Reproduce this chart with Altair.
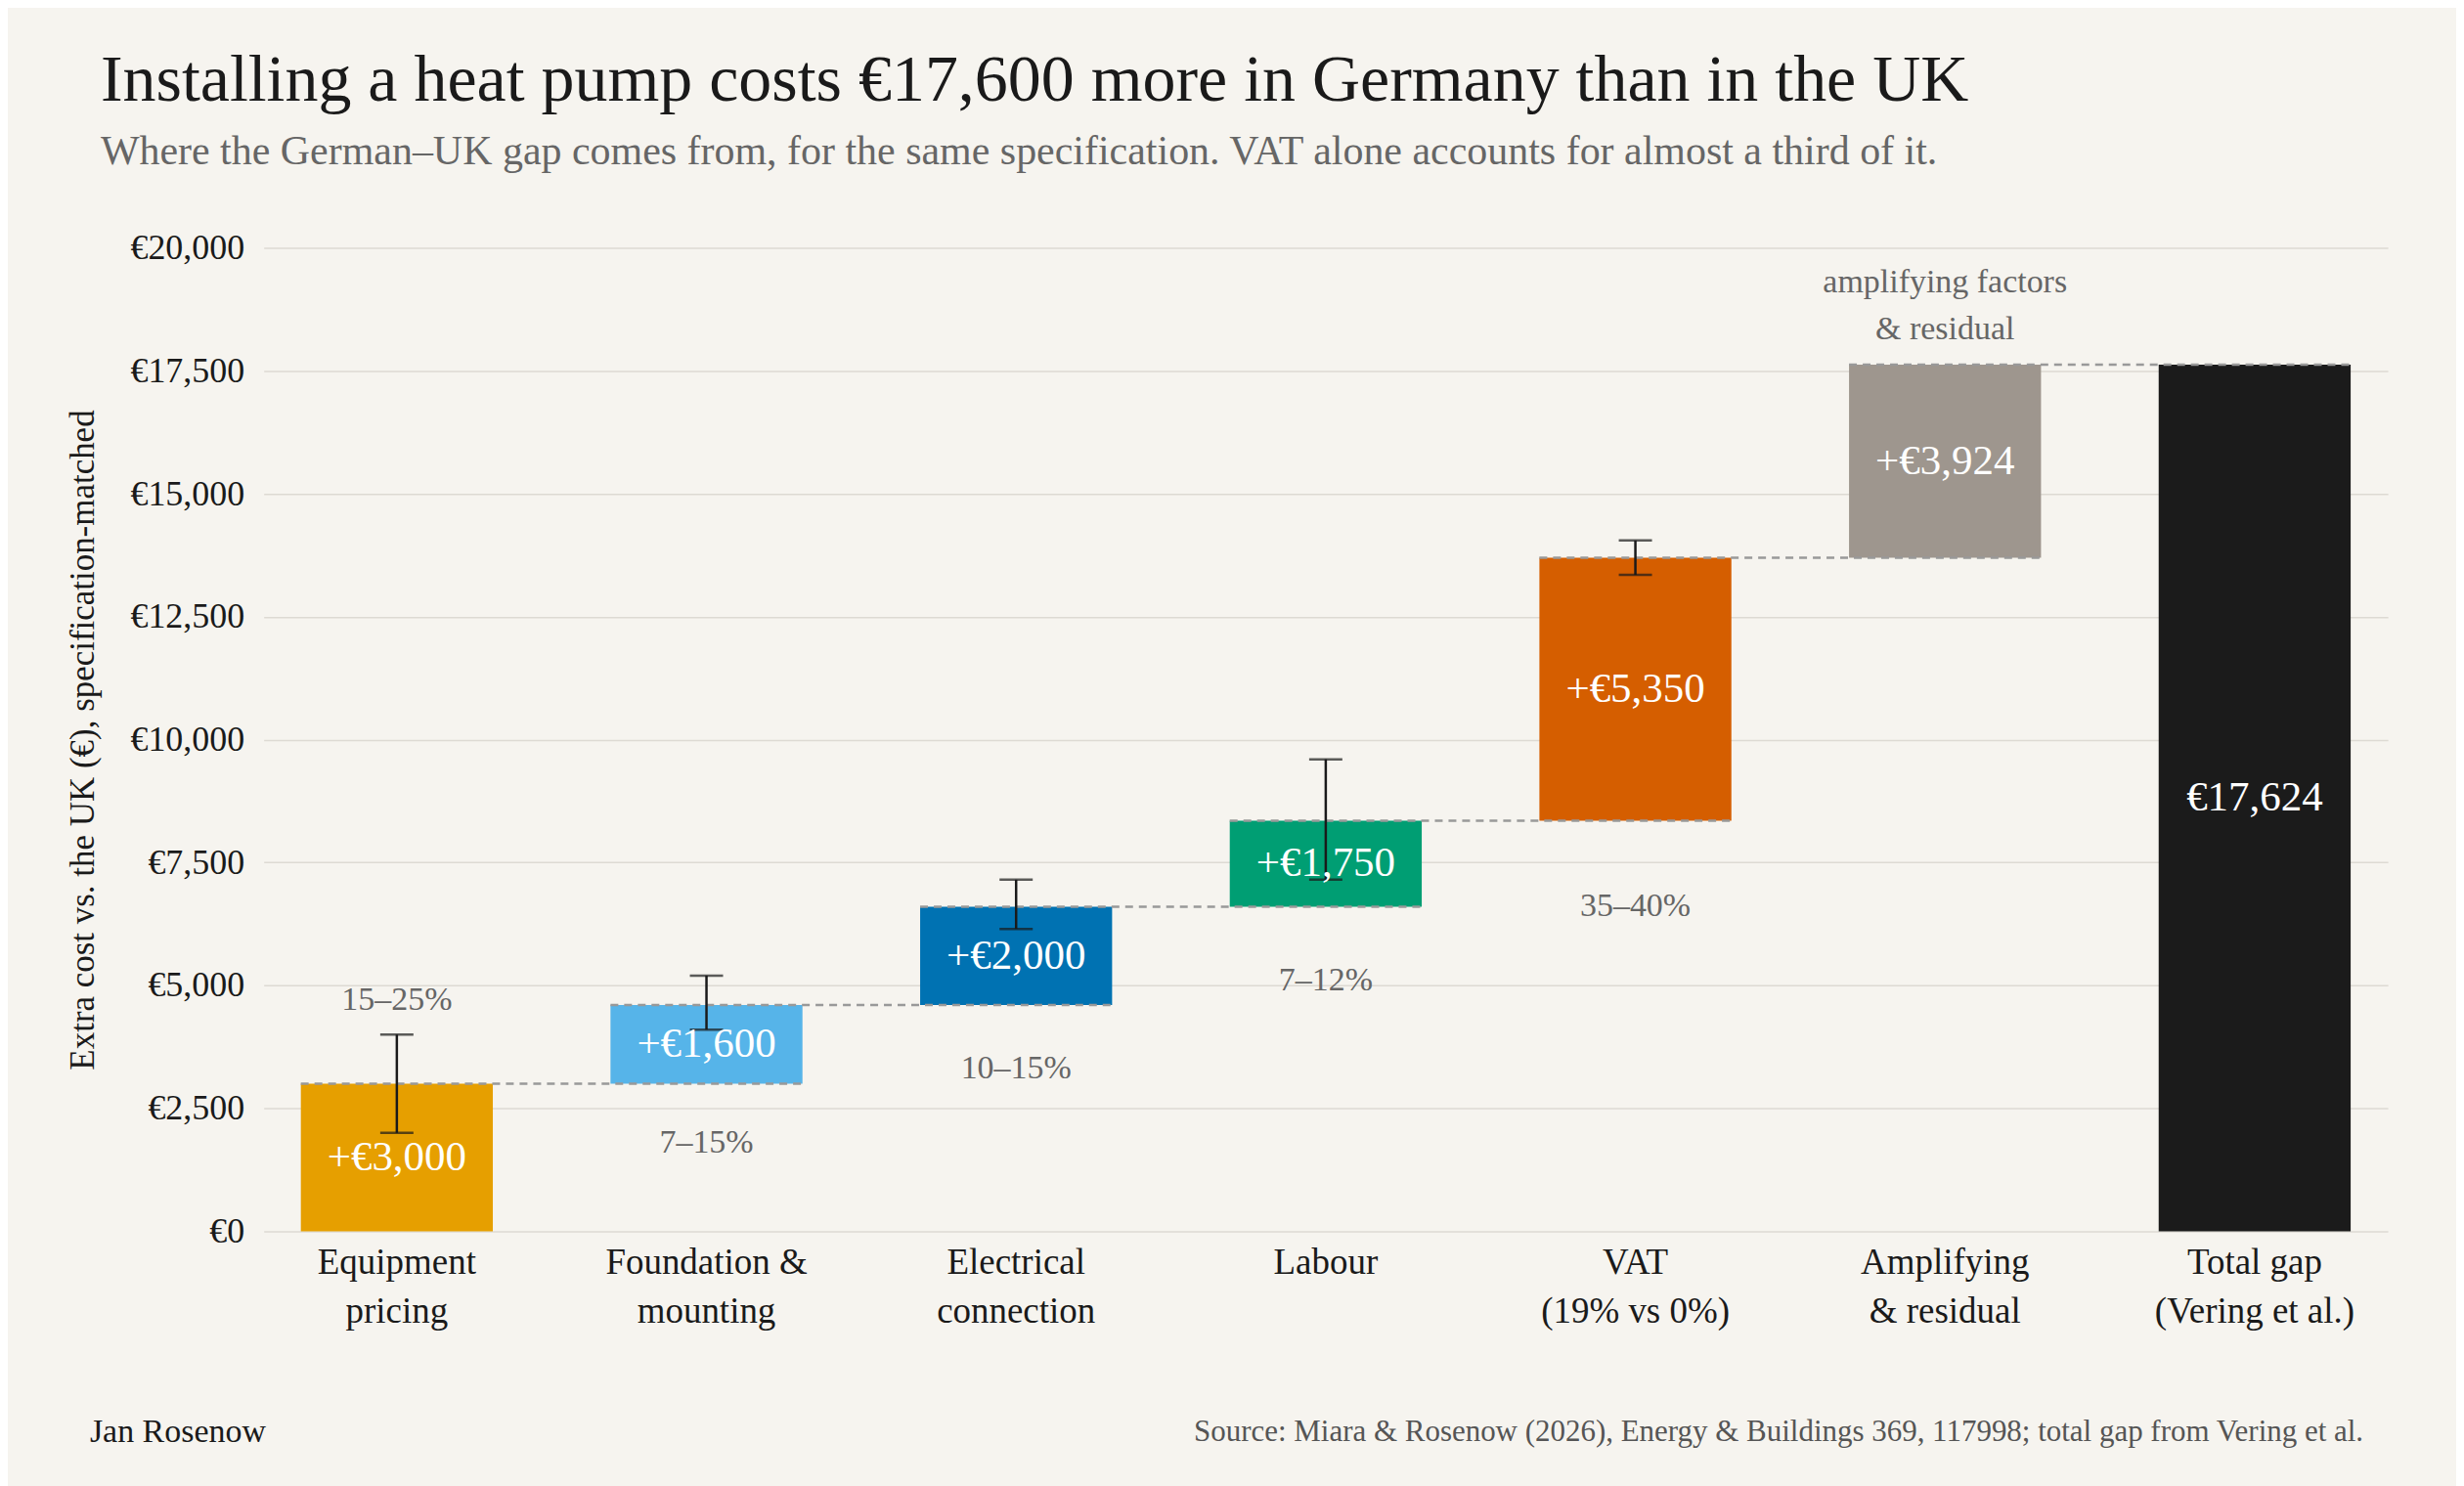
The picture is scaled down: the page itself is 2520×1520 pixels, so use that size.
import altair as alt
import pandas as pd

categories = ["Equipment|pricing", "Foundation &|mounting", "Electrical|connection", "Labour",
              "VAT|(19% vs 0%)", "Amplifying|& residual", "Total gap|(Vering et al.)"]
starts = [0, 3000, 4600, 6600, 8350, 13700, 0]
ends = [3000, 4600, 6600, 8350, 13700, 17624, 17624]
bar_labels = ["+€3,000", "+€1,600", "+€2,000", "+€1,750", "+€5,350", "+€3,924", "€17,624"]
colors = ["#E69F00", "#56B4E9", "#0072B2", "#009E73", "#D55E00", "#9E968E", "#1B1B1B"]
err_lo = [2000, 4100, 6150, 7150, 13350]
err_hi = [4000, 5200, 7150, 9600, 14050]
share_labels = ["15–25%", "7–15%", "10–15%", "7–12%", "35–40%"]
share_y = [4700, 1800, 3300, 5100, 6600]

FONT = "Liberation Serif"
W, H = 2175, 1007

bars = pd.DataFrame({"cat": categories, "start": starts, "end": ends, "label": bar_labels,
                     "color": colors})
bars["mid"] = (bars["start"] + bars["end"]) / 2
errs = pd.DataFrame({"cat": categories[:5], "lo": err_lo, "hi": err_hi})
shares = pd.DataFrame({"cat": categories[:5], "txt": share_labels, "y": share_y})
conn = pd.DataFrame({"cat": categories[:6], "nxt": categories[1:], "y": ends[:6]})

xs = alt.Scale(domain=categories, paddingInner=0.38, paddingOuter=0.12)
ys = alt.Scale(domain=[0, 20000])
x = alt.X("cat:N", scale=xs, sort=categories, title=None,
          axis=alt.Axis(labelExpr="split(datum.value, '|')", labelAngle=0, labelFontSize=37,
                        labelColor="#1a1a1a", labelPadding=14, labelLineHeight=50,
                        labelLimit=0, domain=False, ticks=False))

bar = alt.Chart(bars).mark_bar().encode(
    x=x,
    y=alt.Y("start:Q", scale=ys, title="Extra cost vs. the UK (€), specification-matched",
            axis=alt.Axis(values=list(range(0, 20001, 2500)),
                          labelExpr="'€' + format(datum.value, ',')",
                          labelFontSize=36, labelColor="#1a1a1a", titleFontSize=35,
                          titleFontWeight="normal", titleColor="#1a1a1a", titlePadding=30,
                          gridColor="#dddad3", gridWidth=1.5, domain=False, ticks=False,
                          labelPadding=20)),
    y2="end:Q",
    color=alt.Color("color:N", scale=None),
)

connectors = alt.Chart(conn).mark_rule(strokeDash=[8, 6], color="#999999", strokeWidth=2.5).encode(
    x=alt.X("cat:N", scale=xs, sort=categories, bandPosition=0),
    x2=alt.X2("nxt:N", bandPosition=1),
    y=alt.Y("y:Q", scale=ys),
)

ebar = alt.Chart(errs).mark_rule(color="#1a1a1a", strokeWidth=2.5).encode(
    x=alt.X("cat:N", scale=xs, sort=categories, bandPosition=0.5),
    y=alt.Y("lo:Q", scale=ys), y2="hi:Q",
)
cap_lo = alt.Chart(errs).mark_tick(color="#1a1a1a", thickness=2.5, size=34, orient="horizontal").encode(
    x=alt.X("cat:N", scale=xs, sort=categories, bandPosition=0.5), y=alt.Y("lo:Q", scale=ys))
cap_hi = alt.Chart(errs).mark_tick(color="#1a1a1a", thickness=2.5, size=34, orient="horizontal").encode(
    x=alt.X("cat:N", scale=xs, sort=categories, bandPosition=0.5), y=alt.Y("hi:Q", scale=ys))

blabels = alt.Chart(bars).mark_text(font=FONT, fontSize=43, color="white").encode(
    x=alt.X("cat:N", scale=xs, sort=categories, bandPosition=0.5),
    y=alt.Y("mid:Q", scale=ys), text="label:N")

slabels = alt.Chart(shares).mark_text(font=FONT, fontSize=34, color="#666666").encode(
    x=alt.X("cat:N", scale=xs, sort=categories, bandPosition=0.5),
    y=alt.Y("y:Q", scale=ys), text="txt:N")

amp = alt.Chart(pd.DataFrame({"cat": [categories[5]], "y": [19300],
                              "t": [["amplifying factors", "& residual"]]})).mark_text(
    font=FONT, fontSize=34, color="#666666", lineHeight=48).encode(
    x=alt.X("cat:N", scale=xs, sort=categories, bandPosition=0.5),
    y=alt.Y("y:Q", scale=ys), text="t")

foot = pd.DataFrame({"t": ["Jan Rosenow"]})
author = alt.Chart(foot).mark_text(font=FONT, fontSize=34, color="#1a1a1a", align="left").encode(
    x=alt.value(-178), y=alt.value(H + 206), text="t:N")
source = alt.Chart(pd.DataFrame({"t": ["Source: Miara & Rosenow (2026), Energy & Buildings 369, 117998; total gap from Vering et al."]})).mark_text(
    font=FONT, fontSize=31, color="#555555", align="right").encode(
    x=alt.value(W - 25), y=alt.value(H + 206), text="t:N")

chart = alt.layer(bar, connectors, ebar, cap_lo, cap_hi, blabels, slabels, amp, author, source).properties(
    width=W, height=H,
    background="#F6F4EF",
    padding={"left": 60, "top": 40, "right": 70, "bottom": 50},
    title=alt.TitleParams(
        "Installing a heat pump costs €17,600 more in Germany than in the UK",
        subtitle="Where the German–UK gap comes from, for the same specification. VAT alone accounts for almost a third of it.",
        anchor="start", frame="bounds", dx=35, font=FONT, fontSize=68, fontWeight="normal",
        color="#1a1a1a", subtitleFont=FONT, subtitleFontSize=42, subtitleColor="#666666",
        subtitlePadding=18, offset=60),
).configure_view(stroke=None).configure_axis(labelFont=FONT, titleFont=FONT)

chart.save("out.html", embed_options={"renderer": "svg", "actions": False})
